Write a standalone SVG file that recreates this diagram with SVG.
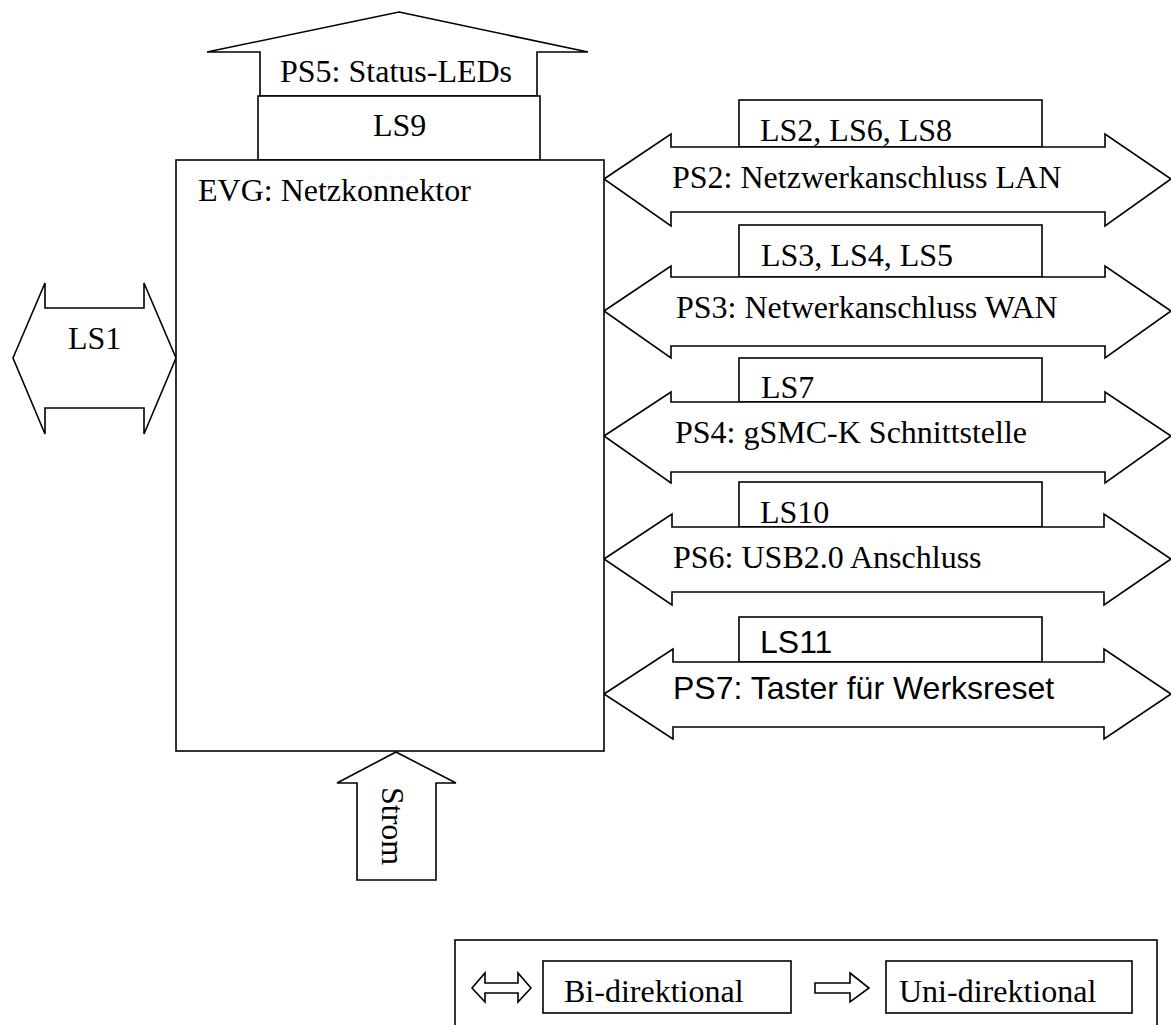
<svg xmlns="http://www.w3.org/2000/svg" width="1171" height="1025" viewBox="0 0 1171 1025">
<style>
.s{fill:#fff;stroke:#000;stroke-width:1.6;stroke-linejoin:miter}
.t{font-family:"Liberation Serif","Times New Roman",serif;font-size:32px;fill:#000}
.a{font-family:"Liberation Sans",Arial,sans-serif;font-size:32px;fill:#000}
</style>
<rect x="0" y="0" width="1171" height="1025" fill="#fff"/>
<g id="connectors">
  <g id="ps5">
    <polygon class="s" points="399,12 588,52 537,52 537,96 260,96 260,52 207,52"/>
    <text class="t" x="280" y="82">PS5: Status-LEDs</text>
  </g>
  <g id="ls1">
    <polygon class="s" points="13,358 45,283 45,308 144,308 144,283 176,358 144,434 144,408 45,408 45,434"/>
    <text class="t" x="68" y="349">LS1</text>
  </g>
  <g id="strom">
    <polygon class="s" points="396,752 456,783 436,783 436,880 357,880 357,783 337,783"/>
    <text class="t" transform="translate(382,787) rotate(90)">Strom</text>
  </g>
  <g id="ls2box"><rect class="s" x="739" y="100" width="303" height="47"/><text class="t" x="760" y="141">LS2, LS6, LS8</text></g>
  <g id="ps2">
    <polygon class="s" points="604,179 671,134 671,147 1105,147 1105,134 1171,179 1105,226 1105,212 671,212 671,226"/>
    <text class="t" x="672" y="188">PS2: Netzwerkanschluss LAN</text>
  </g>
  <g id="ls3box"><rect class="s" x="739" y="225" width="303" height="52"/><text class="t" x="761" y="266">LS3, LS4, LS5</text></g>
  <g id="ps3">
    <polygon class="s" points="604,311 671,266 671,277 1105,277 1105,266 1171,311 1105,358 1105,346 671,346 671,358"/>
    <text class="t" x="676" y="318">PS3: Netwerkanschluss WAN</text>
  </g>
  <g id="ls7box"><rect class="s" x="739" y="358" width="303" height="44"/><text class="t" x="761" y="398">LS7</text></g>
  <g id="ps4">
    <polygon class="s" points="604,436 671,392 671,402 1105,402 1105,392 1171,436 1105,483 1105,472 671,472 671,483"/>
    <text class="t" x="675" y="443">PS4: gSMC-K Schnittstelle</text>
  </g>
  <g id="ls10box"><rect class="s" x="739" y="482" width="303" height="45"/><text class="t" x="760" y="523">LS10</text></g>
  <g id="ps6">
    <polygon class="s" points="604,559 672,514 672,527 1104,527 1104,514 1171,559 1104,605 1104,592 672,592 672,605"/>
    <text class="t" x="673" y="568">PS6: USB2.0 Anschluss</text>
  </g>
  <g id="ls11box"><rect class="s" x="739" y="617" width="303" height="45"/><text class="a" x="760" y="653">LS11</text></g>
  <g id="ps7">
    <polygon class="s" points="604,694 673,649 673,662 1104,662 1104,649 1171,694 1104,739 1104,727 673,727 673,739"/>
    <text class="a" x="673" y="699">PS7: Taster für Werksreset</text>
  </g>
</g>
<g id="ls9">
  <rect class="s" x="258" y="96" width="282" height="64"/>
  <text class="t" x="373" y="136">LS9</text>
</g>
<g id="evg">
  <rect class="s" x="176" y="160" width="428" height="591"/>
  <text class="t" x="198" y="201">EVG: Netzkonnektor</text>
</g>
<g id="legend">
  <rect class="s" x="455" y="940" width="702" height="120"/>
  <polygon class="s" points="472,988 485,973 485,983 518,983 518,973 531,988 518,1002 518,993 485,993 485,1002"/>
  <rect class="s" x="543" y="961" width="248" height="52"/>
  <text class="t" x="564" y="1002">Bi-direktional</text>
  <polygon class="s" points="815,983 850,983 850,973 869,988 850,1002 850,993 815,993"/>
  <rect class="s" x="886" y="961" width="246" height="52"/>
  <text class="t" x="899" y="1002">Uni-direktional</text>
</g>
</svg>
